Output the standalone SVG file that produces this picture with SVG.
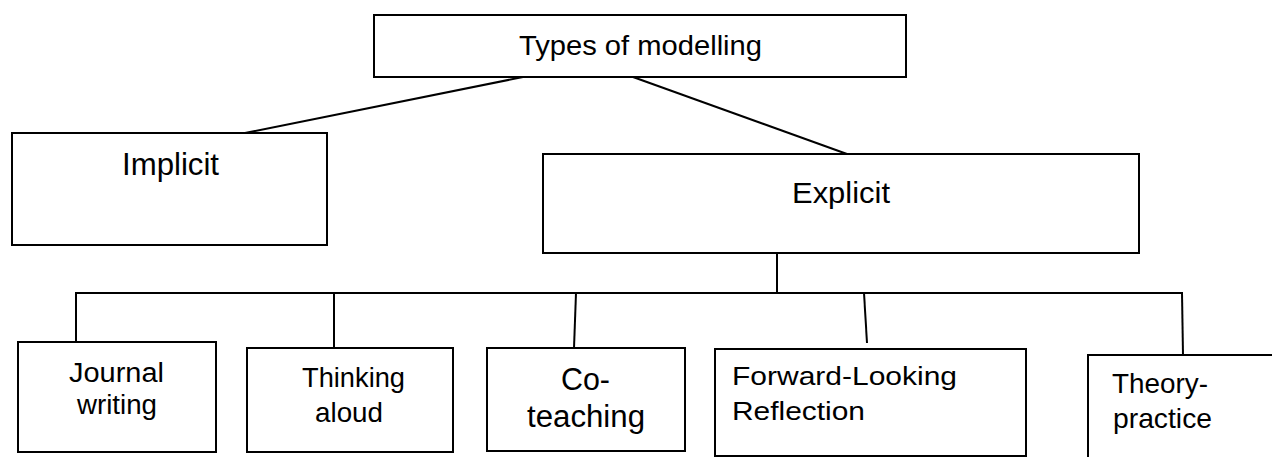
<svg xmlns="http://www.w3.org/2000/svg" width="1272" height="457" viewBox="0 0 1272 457">
<style>
.box{fill:#fff;stroke:#000;stroke-width:2}
line{stroke:#000;stroke-width:2}
text{font-family:"Liberation Sans",Arial,sans-serif;fill:#000}
</style>
<rect x="0" y="0" width="1272" height="457" fill="#fff"/>
<g id="connectors">
<line x1="523" y1="77" x2="245" y2="133"/>
<line x1="633" y1="77" x2="847" y2="154"/>
<line x1="777" y1="253" x2="777" y2="293"/>
<line x1="75" y1="293" x2="1183" y2="293"/>
<line x1="76" y1="293" x2="76" y2="342"/>
<line x1="334" y1="293" x2="334" y2="348"/>
<line x1="576" y1="293" x2="574" y2="348"/>
<line x1="864" y1="293" x2="867" y2="343"/>
<line x1="1182" y1="293" x2="1183" y2="355"/>
</g>
<g id="types">
<rect class="box" x="374" y="15" width="532" height="62"/>
<text x="519" y="55" font-size="28" textLength="243" lengthAdjust="spacingAndGlyphs">Types of modelling</text>
</g>
<g id="implicit">
<rect class="box" x="12" y="133" width="315" height="112"/>
<text x="122" y="175" font-size="31" textLength="97" lengthAdjust="spacingAndGlyphs">Implicit</text>
</g>
<g id="explicit">
<rect class="box" x="543" y="154" width="596" height="99"/>
<text x="792" y="203" font-size="29" textLength="98" lengthAdjust="spacingAndGlyphs">Explicit</text>
</g>
<g id="journal">
<rect class="box" x="18" y="342" width="198" height="110"/>
<text x="69" y="382" font-size="27" textLength="95" lengthAdjust="spacingAndGlyphs">Journal</text>
<text x="77" y="414" font-size="27" textLength="80" lengthAdjust="spacingAndGlyphs">writing</text>
</g>
<g id="thinking">
<rect class="box" x="247" y="348" width="206" height="104"/>
<text x="302" y="387" font-size="28" textLength="103" lengthAdjust="spacingAndGlyphs">Thinking</text>
<text x="315" y="422" font-size="28" textLength="68" lengthAdjust="spacingAndGlyphs">aloud</text>
</g>
<g id="coteaching">
<rect class="box" x="487" y="348" width="198" height="103"/>
<text x="561" y="390" font-size="31" textLength="49" lengthAdjust="spacingAndGlyphs">Co-</text>
<text x="527" y="427" font-size="31" textLength="118" lengthAdjust="spacingAndGlyphs">teaching</text>
</g>
<g id="forward">
<rect class="box" x="715" y="349" width="311" height="107"/>
<text x="732" y="385" font-size="26" textLength="225" lengthAdjust="spacingAndGlyphs">Forward-Looking</text>
<text x="732" y="420" font-size="26" textLength="133" lengthAdjust="spacingAndGlyphs">Reflection</text>
</g>
<g id="theory">
<rect class="box" x="1088" y="355" width="200" height="120"/>
<text x="1112" y="393" font-size="28" textLength="96" lengthAdjust="spacingAndGlyphs">Theory-</text>
<text x="1113" y="428" font-size="28" textLength="99" lengthAdjust="spacingAndGlyphs">practice</text>
</g>
</svg>
